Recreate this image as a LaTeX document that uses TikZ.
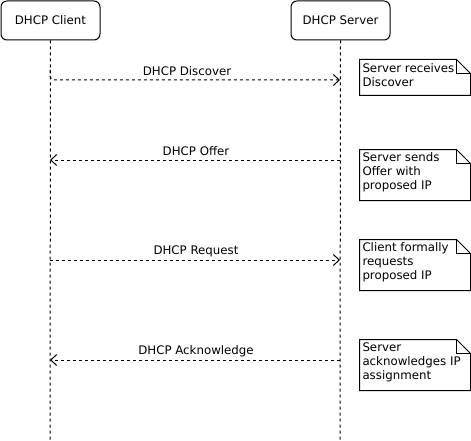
\documentclass[tikz,border=0pt]{standalone}
\usepackage{fontspec}
\setmainfont{DejaVu Sans}
\usetikzlibrary{arrows.meta}
\begin{document}
\begin{tikzpicture}[x=1pt,y=-1pt, line width=1pt,
  txt/.style={font=\fontsize{11.8}{14}\selectfont},
  actor/.style={txt, draw, rounded corners=6pt, minimum width=99pt, minimum height=39pt, inner sep=0},
  lifeline/.style={dash pattern=on 3pt off 3pt},
  msg/.style={dash pattern=on 3pt off 3pt, -{Straight Barb[length=6pt,width=11pt]}},
  lbl/.style={txt, inner sep=0},
  notebox/.style={txt, minimum width=110pt, inner xsep=2pt, inner ysep=0pt, text width=106pt, align=left},
  notetext/.style={txt, inner sep=0, align=left, anchor=west},
  fold/.style={line join=miter}
]
\useasboundingbox (0,0) rectangle (471,441);
\fill[white] (0,0) rectangle (471,441);

% actors
\node[actor] (client) at (50.5,20.5) {DHCP Client};
\node[actor] (server) at (340.5,20.5) {DHCP Server};
\coordinate (cend) at (50,441);
\coordinate (send) at (340,441);
\draw[lifeline] (client.south) -- (cend);
\draw[lifeline] (server.south) -- (send);

% message anchor points on lifelines
\coordinate (c0) at (50,70);
\coordinate (s1) at (340,80);
\coordinate (s2) at (340,160);
\coordinate (c2) at (50,160);
\coordinate (c3) at (50,260);
\coordinate (s3) at (340,260);
\coordinate (s4) at (340,360);
\coordinate (c4) at (50,360);

\draw[msg, rounded corners=4pt] (c0) |- (s1);
\draw[msg] (s2) -- (c2);
\draw[msg] (c3) -- (s3);
\draw[msg] (s4) -- (c4);

\node[lbl] (l1) at (187,71) {DHCP Discover};
\node[lbl] (l2) at (196,151) {DHCP Offer};
\node[lbl] (l3) at (196,251) {DHCP Request};
\node[lbl] (l4) at (196,351) {DHCP Acknowledge};

% notes (frames)
\node[minimum width=110pt, minimum height=35pt, inner sep=0] (n1) at (415,77.5) {};
\node[minimum width=110pt, minimum height=50pt, inner sep=0] (n2) at (415,175) {};
\node[minimum width=110pt, minimum height=50pt, inner sep=0] (n3) at (415,265) {};
\node[minimum width=110pt, minimum height=50pt, inner sep=0] (n4) at (415,365) {};

\foreach \n in {n1,n2,n3,n4}{
  \draw[fold] (\n.north west) -- ([xshift=-14pt]\n.north east) -- ([yshift=-14pt]\n.north east) -- (\n.south east) -- (\n.south west) -- cycle;
  \draw[fold] ([xshift=-14pt]\n.north east) -- ([xshift=-14pt,yshift=-14pt]\n.north east) -- ([yshift=-14pt]\n.north east);
}

% note texts
\node[notetext] (t1) at (362,75.5) {Server receives\\Discover};
\node[notetext] (t2) at (362,172) {Server sends\\Offer with\\proposed IP};
\node[notetext] (t3) at (362,262) {Client formally\\requests\\proposed IP};
\node[notetext] (t4) at (362,362) {Server\\acknowledges IP\\assignment};
\end{tikzpicture}
\end{document}
